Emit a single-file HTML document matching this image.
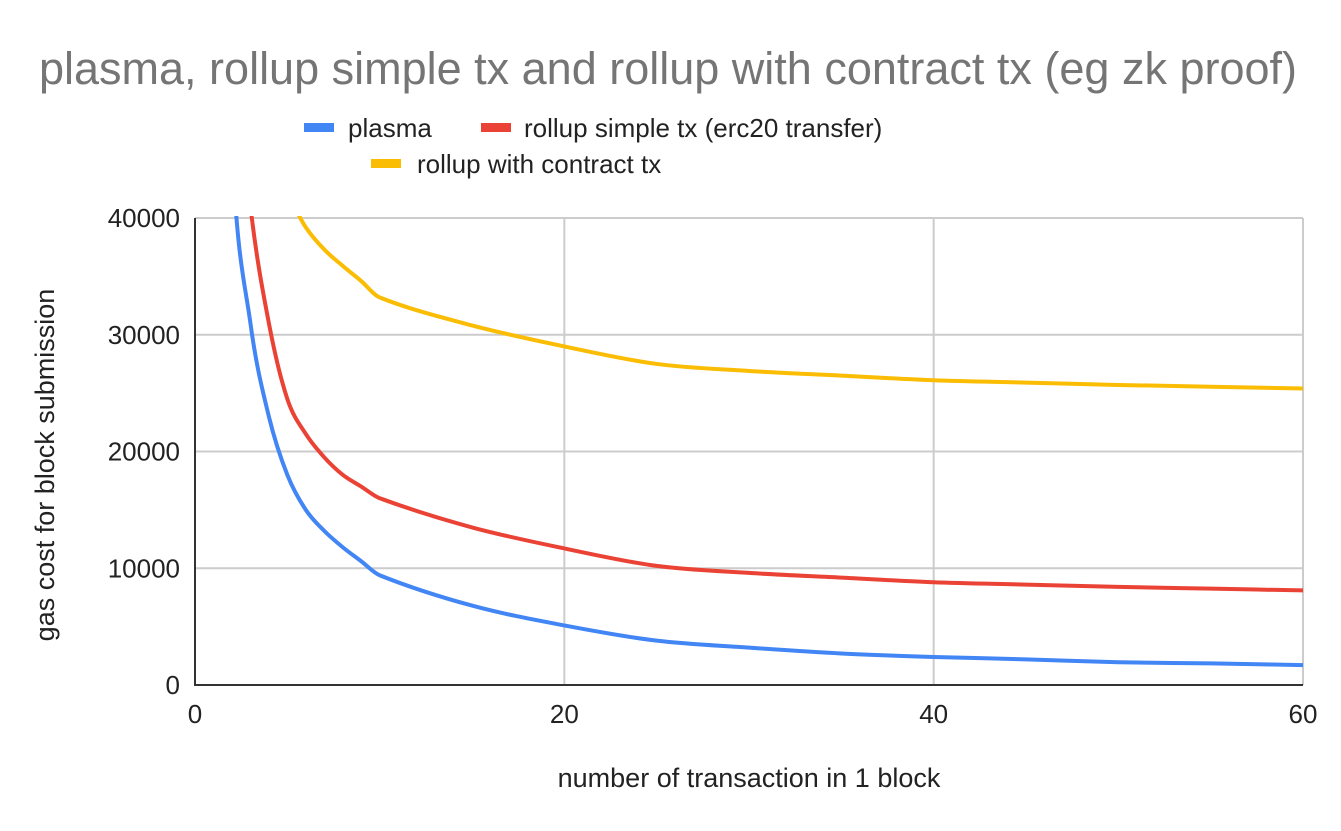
<!DOCTYPE html>
<html><head><meta charset="utf-8"><style>
body{margin:0;background:#fff;font-family:"Liberation Sans",Arial,sans-serif}
svg{display:block}
</style></head><body>
<svg id="c" width="1341" height="831" xmlns="http://www.w3.org/2000/svg">
<text x="668" y="84" text-anchor="middle" font-size="45" fill="#757575">plasma, rollup simple tx and rollup with contract tx (eg zk proof)</text>
<g>
<g><rect x="304" y="123" width="30" height="9" fill="#4285f4"/><text x="348" y="137" font-size="26" fill="#222">plasma</text></g>
<g><rect x="481" y="123" width="30" height="9" fill="#ea4335"/><text x="524" y="137" font-size="26" fill="#222">rollup simple tx (erc20 transfer)</text></g>
<g><rect x="371" y="159" width="30" height="9" fill="#fbbc04"/><text x="417" y="173" font-size="26" fill="#222">rollup with contract tx</text></g>
</g>
<text transform="translate(54,465) rotate(-90)" text-anchor="middle" font-size="27" fill="#222">gas cost for block submission</text>
<text x="749" y="787" text-anchor="middle" font-size="27" fill="#222">number of transaction in 1 block</text>
<g id="grid"></g><g id="series"></g><g id="axes"></g>
</svg>
<script>
const xs=[1,2,3,4,5,6,7,8,9,10,15,20,25,30,35,40,45,50,55,60];
const plasma=[92000,46000,31000,23000,18000,15000,13200,11800,10600,9400,6800,5100,3800,3200,2700,2400,2200,1950,1850,1700];
const rollupSimple=[100000,58000,41000,31000,24500,21500,19500,18000,17000,16000,13500,11700,10200,9600,9200,8800,8600,8400,8250,8100];
const rollupContract=[70000,52000,47000,44000,42000,39200,37300,35900,34600,33200,30800,29000,27500,26900,26500,26100,25900,25700,25550,25400];
const yTicks=[0,10000,20000,30000,40000];
const xTicks=[0,20,40,60];
const L=195,R=1303,T=218,B=685;
const sx=v=>L+(R-L)*v/60, sy=v=>B-(B-T)*v/40000;
const NS="http://www.w3.org/2000/svg";
function mk(t,a,p){const e=document.createElementNS(NS,t);for(const k in a)e.setAttribute(k,a[k]);p.appendChild(e);return e;}
const grid=document.getElementById('grid'),axes=document.getElementById('axes'),ser=document.getElementById('series');
yTicks.forEach(v=>{
 if(v>0){const g=mk('line',{x1:L,x2:R,y1:sy(v),y2:sy(v),stroke:'#ccc','stroke-width':2},grid);
 
 }
 const t=mk('text',{x:180,y:sy(v)+9,'text-anchor':'end','font-size':26,fill:'#222'},axes);t.textContent=v;
 
 
});
xTicks.forEach(v=>{
 if(v>0){const g=mk('line',{x1:sx(v),x2:sx(v),y1:T,y2:B,stroke:'#ccc','stroke-width':2},grid);
 
 }
 const t=mk('text',{x:sx(v),y:723,'text-anchor':'middle','font-size':26,fill:'#222'},axes);t.textContent=v;
 
 
});
const ax=mk('path',{d:`M${L},${T}V${B}H${R}`,stroke:'#333','stroke-width':2,fill:'none'},axes);


mk('clipPath',{id:'clip'},ser).appendChild(document.createElementNS(NS,'rect'));
const cr=ser.querySelector('rect');cr.setAttribute('x',L);cr.setAttribute('y',T-2);cr.setAttribute('width',R-L+2);cr.setAttribute('height',B-T+2);
function path(vals){
 const P=xs.map((x,i)=>[sx(x),sy(vals[i])]);
 const m=P.map((p,i)=>{const a=P[Math.max(0,i-1)],b=P[Math.min(P.length-1,i+1)];return (b[1]-a[1])/(b[0]-a[0]);});
 let d=`M${P[0][0]},${P[0][1]}`;
 for(let i=0;i<P.length-1;i++){
  const p1=P[i],p2=P[i+1],dx=(p2[0]-p1[0])/3;
  d+=`C${p1[0]+dx},${p1[1]+m[i]*dx} ${p2[0]-dx},${p2[1]-m[i+1]*dx} ${p2[0]},${p2[1]}`;
 }
 return d;
}
[[rollupContract,'#fbbc04','line-rollup-contract'],[rollupSimple,'#ea4335','line-rollup-simple'],[plasma,'#4285f4','line-plasma']].forEach(([v,c,n])=>{
 const p=mk('path',{d:path(v),stroke:c,'stroke-width':4,fill:'none','clip-path':'url(#clip)','stroke-linejoin':'round'},ser);
 
 
});
</script>
</body></html>
